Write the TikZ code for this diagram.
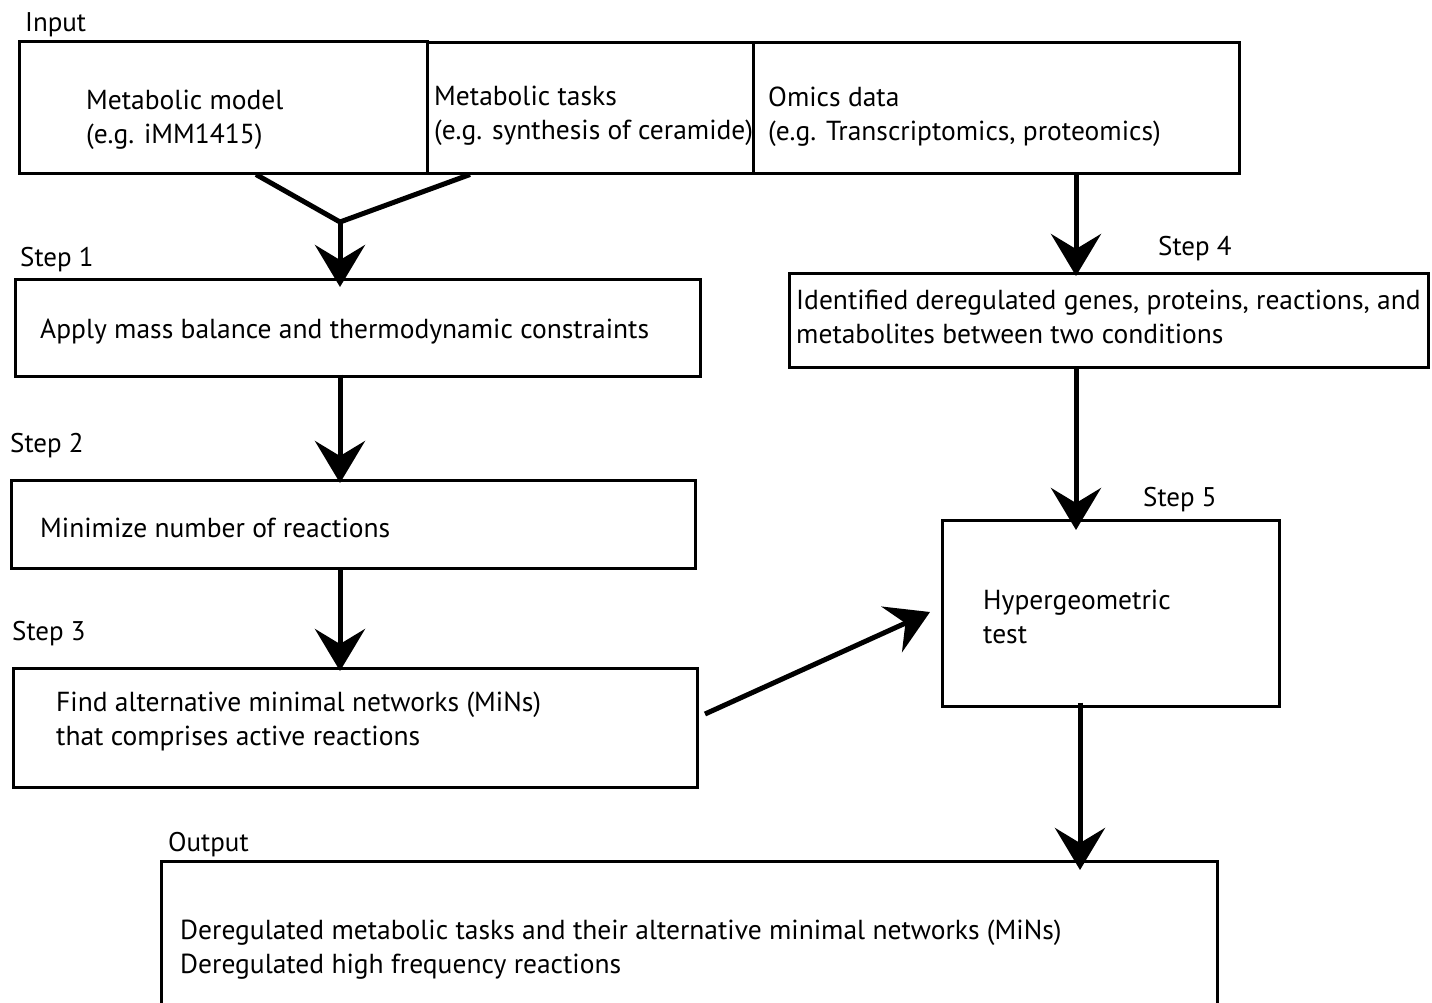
\documentclass[tikz,border=0pt]{standalone}
\usepackage{fontspec}
\setmainfont{PT Sans}
\usetikzlibrary{arrows.meta}
\begin{document}
\begin{tikzpicture}[x=1pt,y=-1pt,
  box/.style={draw, line width=2.5pt, rectangle, inner sep=0pt, anchor=north west},
  txt/.style={anchor=west, inner sep=0pt, align=left, font=\fontsize{27.5}{34}\selectfont},
  lbl/.style={anchor=west, inner sep=0pt, font=\fontsize{27}{30}\selectfont},
  arr/.style={line width=5pt, -{Stealth[length=42pt, width=50pt, inset=15pt]}},
  ln/.style={line width=5pt}]
\useasboundingbox (0,0) rectangle (1432,1002);
% Input
\node[lbl] (linput) at (25,25) {Input};
\node[box, minimum width=408pt, minimum height=132pt] (model) at (18,40) {};
\node[box, minimum width=326pt, minimum height=131pt] (tasks) at (426,41) {};
\node[box, minimum width=486pt, minimum height=131pt] (omics) at (752,41) {};
\node[txt] (tmodel) at (86,120) {Metabolic model\\(e.g. iMM1415)};
\node[txt] (ttasks) at (434,116) {Metabolic tasks\\(e.g. synthesis of ceramide)};
\node[txt] (tomics) at (768,117) {Omics data\\(e.g. Transcriptomics, proteomics)};
% Step 1
\node[lbl] (lstep1) at (20,260) {Step 1};
\node[box, minimum width=685pt, minimum height=97pt] (s1) at (14,278) {};
\node[txt] (ts1) at (40,332) {Apply mass balance and thermodynamic constraints};
% Step 2
\node[lbl] (lstep2) at (10,446) {Step 2};
\node[box, minimum width=684pt, minimum height=88pt] (s2) at (10,479) {};
\node[txt] (ts2) at (40,528) {Minimize number of reactions};
% Step 3
\node[lbl] (lstep3) at (12,634) {Step 3};
\node[box, minimum width=684pt, minimum height=119pt] (s3) at (12,667) {};
\node[txt] (ts3) at (56,721) {Find alternative minimal networks (MiNs)\\that comprises active reactions};
% Step 4
\node[lbl] (lstep4) at (1158,249) {Step 4};
\node[box, minimum width=639pt, minimum height=94pt] (s4) at (788,272) {};
\node[txt] (ts4) at (796,317) {Identified deregulated genes, proteins, reactions, and\\metabolites between two conditions};
% Step 5
\node[lbl] (lstep5) at (1143,500) {Step 5};
\node[box, minimum width=337pt, minimum height=186pt] (s5) at (941,519) {};
\node[txt] (ts5) at (983,617) {Hypergeometric\\test};
% Output
\node[lbl] (lout) at (168,845) {Output};
\node[box, minimum width=1056pt, minimum height=170pt] (out) at (160,860) {};
\node[txt] (tout) at (180,950) {Deregulated metabolic tasks and their alternative minimal networks (MiNs)\\Deregulated high frequency reactions};
% connectors
\coordinate (merge) at (340,222);
\draw[ln, line join=miter] (model.south -| 256,0) -- (merge) -- (tasks.south -| 470,0);
\draw[arr] (merge) -- ([yshift=-9pt]s1.north -| 340,0);
\draw[arr] ([yshift=3pt]s1.south -| 340,0) -- ([yshift=-4pt]s2.north -| 340,0);
\draw[arr] (s2.south -| 340,0) -- ([yshift=-4pt]s3.north -| 340,0);
\draw[arr] (omics.south -| 1076,0) -- ([yshift=-4pt]s4.north -| 1076,0);
\draw[arr] (s4.south -| 1076,0) -- ([yshift=-11pt]s5.north -| 1076,0);
\draw[arr] ([yshift=5pt]s5.south -| 1080,0) -- ([yshift=-10pt]out.north -| 1080,0);
\coordinate (a3) at (705,714);
\coordinate (a5) at (930,612);
\draw[arr] (a3) -- (a5);
\end{tikzpicture}
\end{document}
